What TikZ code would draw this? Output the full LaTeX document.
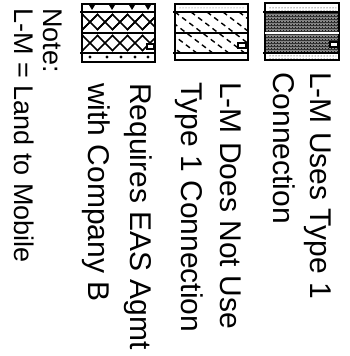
\documentclass[tikz,border=0pt]{standalone}
\usepackage{fontspec}
\setmainfont{Liberation Sans}
\usetikzlibrary{patterns}
\begin{document}
\begin{tikzpicture}[x=1pt,y=-1pt,
  lbl/.style={anchor=base west, rotate=-90, inner sep=0pt, font=\fontsize{30}{36}\selectfont},
  notelbl/.style={anchor=base west, rotate=-90, inner sep=0pt, font=\fontsize{27}{32}\selectfont},
  frame/.style={line width=2pt},
  divider/.style={line width=1.4pt},
  hatch/.style={line width=1.4pt, dash pattern=on 5pt off 4pt},
  net/.style={line width=1.5pt},
  tab/.style={draw, line width=1.2pt, fill=white}]
\useasboundingbox (0,0) rectangle (350,356);

% ---------- Box 1: L-M uses Type 1 connection (dense texture)
\fill[black!45] (265,3) rectangle (339,60);
\fill[pattern=crosshatch dots, pattern color=black] (265,12) rectangle (339,53);
\fill[pattern=horizontal lines, pattern color=black!80] (265,12) rectangle (339,53);
\fill[white] (265,4) rectangle (339,11);
\fill[pattern=dots, pattern color=black] (268,6) rectangle (336,10);
\fill[white] (265,54) rectangle (339,59);
\fill[pattern=dots, pattern color=black] (268,55) rectangle (336,58);
\draw[frame] (265,3) rectangle (339,60);
\draw[divider] (263,12) -- (339,12);
\draw[divider, white, line width=2pt] (265,33) -- (339,33);
\draw[divider] (263,53) -- (339,53);
\draw[tab] (330,42) rectangle (338,47);

% ---------- Box 2: L-M does not use Type 1 connection (dashed diagonals)
\begin{scope}
  \clip (175,12) rectangle (248,53);
  \foreach \i in {-64,-48,...,80}
    \draw[hatch] (175+\i,12) -- ++(55,42);
\end{scope}
\fill[pattern=dots, pattern color=black!60] (178,6) rectangle (245,9);
\draw[frame] (175,4) rectangle (248,60);
\draw[divider] (173,12) -- (248,12);
\draw[divider] (175,33) -- (248,33);
\draw[divider] (173,53) -- (248,53);
\draw[tab] (238,43) rectangle (246,48);

% ---------- Box 3: requires EAS agreement (diamond net)
\begin{scope}
  \clip (82,12) rectangle (155,33);
  \foreach \i in {-45,-30,...,90}
    {\draw[net] (82+\i,14) -- ++(16,16);
     \draw[net] (82+\i,30) -- ++(16,-16);
     \draw[net] (82+\i-15,30) -- ++(16,-16);}
\end{scope}
\begin{scope}
  \clip (82,33) rectangle (155,53);
  \foreach \i in {-45,-30,...,90}
    {\draw[net] (82+\i,35) -- ++(16,16);
     \draw[net] (82+\i,51) -- ++(16,-16);}
\end{scope}
\foreach \x in {92,112,132,148}
  \fill (\x-3,5) -- (\x+3,5) -- (\x,10) -- cycle;
\foreach \x in {90,107,121,135,148}
  \fill (\x,57) circle (1.6pt);
\draw[frame] (82,4) rectangle (155,62);
\draw[divider] (80,12) -- (155,12);
\draw[divider] (82,33) -- (155,33);
\draw[divider] (80,53) -- (155,53);
\draw[tab] (147,44) rectangle (154,49);

% ---------- Labels
\node[lbl] (t1a) at (310,72) {L-M Uses Type 1};
\node[lbl] (t1b) at (273,72) {Connection};
\node[lbl] (t2a) at (220,82) {L-M Does Not Use};
\node[lbl] (t2b) at (181,82) {Type 1 Connection};
\node[lbl] (t3a) at (130,83) {Requires EAS Agmt};
\node[lbl] (t3b) at (88,83) {with Company B};
\node[notelbl] (n1) at (43,8) {Note:};
\node[notelbl] (n2) at (14,8) {L-M = Land to Mobile};
\end{tikzpicture}
\end{document}
